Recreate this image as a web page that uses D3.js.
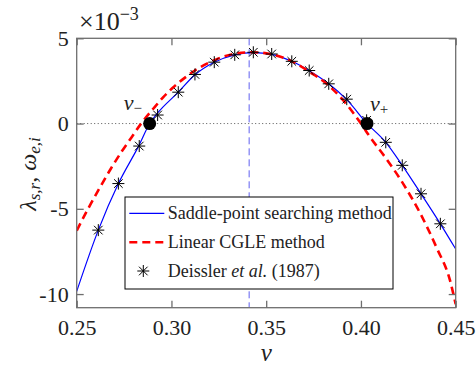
<!DOCTYPE html>
<html>
<head>
<meta charset="utf-8">
<script src="https://cdn.jsdelivr.net/npm/d3@7"></script>
<style>
  body { margin: 0; background: #fff; }
  svg text { font-family: "Liberation Serif", "DejaVu Serif", serif; fill: #222; }
</style>
</head>
<body>
<script>
let w = 476;
let h = 367;
let pLeft = 76.7, pRight = 455.7, pTop = 38.3, pBottom = 307.7;
let fontFam = '"Liberation Serif", "DejaVu Serif", serif';

// tick values
let xTicks = [0.25, 0.30, 0.35, 0.40, 0.45];
let yTicks = [5, 0, -5, -10];

// saddle-point searching method (blue), values in 1e-3
let saddleV   = [0.250, 0.2614, 0.272, 0.283, 0.2885, 0.2927, 0.3036, 0.3124, 0.3226, 0.3334, 0.3432, 0.3529, 0.3635, 0.3727, 0.383, 0.3925, 0.4032, 0.4131, 0.4218, 0.4317, 0.4419, 0.450];
let saddleVal = [-9.84, -6.25, -3.52, -1.25, 0, 0.62, 1.84, 2.86, 3.60, 4.03, 4.16, 4.06, 3.65, 3.10, 2.33, 1.40, 0, -1.10, -2.45, -4.12, -5.88, -7.36];

// linear CGLE method (red dashed)
let cgleV   = [0.250, 0.256, 0.262, 0.268, 0.274, 0.279, 0.284, 0.2904, 0.2957, 0.301, 0.3063, 0.3124, 0.3221, 0.3327, 0.343, 0.352, 0.3635, 0.3731, 0.3819, 0.3907, 0.400, 0.4048, 0.4136, 0.4224, 0.4312, 0.440, 0.447, 0.450];
let cgleVal = [-6.28, -5.0, -3.8, -2.65, -1.6, -0.8, 0, 0.87, 1.55, 2.13, 2.62, 3.11, 3.69, 4.08, 4.18, 4.08, 3.65, 3.01, 2.33, 1.36, 0, -0.79, -2.1, -3.55, -5.25, -7.3, -9.2, -10.6];

// Deissler et al. (1987)
let deisslerV   = [0.2614, 0.272, 0.283, 0.2927, 0.3036, 0.3124, 0.3226, 0.3334, 0.3432, 0.3529, 0.3635, 0.3727, 0.383, 0.3925, 0.403, 0.4131, 0.4218, 0.4317, 0.4419];
let deisslerVal = [-6.25, -3.52, -1.32, 0.50, 1.84, 2.88, 3.60, 4.03, 4.18, 4.08, 3.65, 3.11, 2.33, 1.43, 0.19, -1.10, -2.45, -4.12, -5.88];

// zero crossings and peak line
let crossV = [0.2885, 0.4032];
let crossSign = ['\u2212', '+'];
let peakV = 0.341;

let legendLabels = ['Saddle-point searching method', 'Linear CGLE method', 'Deissler'];

let xScale = d3.scaleLinear().domain([0.25, 0.45]).range([pLeft, pRight]);
let yScale = d3.scaleLinear().domain([-10.8, 5]).range([pBottom, pTop]);

let svg = d3.select('body').append('svg')
  .attr('width', w)
  .attr('height', h);

svg.append('defs').append('clipPath').attr('id', 'clip')
  .append('rect')
  .attr('x', pLeft).attr('y', pTop)
  .attr('width', pRight - pLeft).attr('height', pBottom - pTop);

let plot = svg.append('g').attr('clip-path', 'url(#clip)');

// reference lines
plot.append('line')
  .attr('x1', pLeft).attr('x2', pRight)
  .attr('y1', yScale(0)).attr('y2', yScale(0))
  .attr('stroke', '#555').attr('stroke-width', 1)
  .attr('stroke-dasharray', '1,2.5');

plot.append('line')
  .attr('x1', xScale(peakV)).attr('x2', xScale(peakV))
  .attr('y1', pTop).attr('y2', pBottom)
  .attr('stroke', '#6060f0').attr('stroke-width', 1)
  .attr('stroke-dasharray', '7,4');

let line = d3.line()
  .x((d) => { return xScale(d[0]); })
  .y((d) => { return yScale(d[1]); })
  .curve(d3.curveMonotoneX);

plot.append('path')
  .datum(saddleV.map((v, i) => [v, saddleVal[i]]))
  .attr('d', line)
  .attr('fill', 'none')
  .attr('stroke', '#0000ff')
  .attr('stroke-width', 1.2);

plot.append('path')
  .datum(cgleV.map((v, i) => [v, cgleVal[i]]))
  .attr('d', line)
  .attr('fill', 'none')
  .attr('stroke', '#ff0000')
  .attr('stroke-width', 2.6)
  .attr('stroke-dasharray', '8,5');

let star = 'M-6,0H6M0,-6V6M-4.3,-4.3L4.3,4.3M-4.3,4.3L4.3,-4.3';

svg.selectAll('.star')
  .data(deisslerV)
  .enter()
  .append('path')
  .attr('class', 'star')
  .attr('d', star)
  .attr('transform', (d, i) => { return 'translate(' + xScale(d) + ',' + yScale(deisslerVal[i]) + ')'; })
  .attr('stroke', '#000')
  .attr('stroke-width', 1);

svg.selectAll('.cross')
  .data(crossV)
  .enter()
  .append('circle')
  .attr('class', 'cross')
  .attr('cx', (d) => { return xScale(d); })
  .attr('cy', yScale(0))
  .attr('r', 6.5)
  .attr('fill', '#000');

// v- and v+ labels
let crossText = svg.selectAll('.crossText')
  .data(crossV)
  .enter()
  .append('text')
  .attr('class', 'crossText')
  .attr('x', (d, i) => { return i === 0 ? xScale(d) - 26 : xScale(d) + 3; })
  .attr('y', (d, i) => { return i === 0 ? 110 : 111; })
  .style('font-size', '22px');
crossText.append('tspan').style('font-style', 'italic').text('v');
crossText.append('tspan')
  .attr('dy', 3)
  .style('font-size', '15px')
  .text((d, i) => { return crossSign[i]; });

// axes box
svg.append('rect')
  .attr('x', pLeft).attr('y', pTop)
  .attr('width', pRight - pLeft).attr('height', pBottom - pTop)
  .attr('fill', 'none')
  .attr('stroke', '#6e6e6e')
  .attr('stroke-width', 1.3);

let fmtY = (d) => { return d < 0 ? '-' + Math.abs(d) : String(d); };

let xAxis = d3.axisBottom(xScale).tickValues(xTicks).tickSizeInner(-7).tickSizeOuter(0)
  .tickPadding(12).tickFormat(d3.format('.2f'));
let yAxis = d3.axisLeft(yScale).tickValues(yTicks).tickSizeInner(-7).tickSizeOuter(0)
  .tickPadding(8).tickFormat(fmtY);

let gx = svg.append('g').attr('transform', 'translate(0,' + pBottom + ')').call(xAxis);
let gy = svg.append('g').attr('transform', 'translate(' + pLeft + ',0)').call(yAxis);
let gt = svg.append('g').attr('transform', 'translate(0,' + pTop + ')')
  .call(d3.axisTop(xScale).tickValues(xTicks).tickSizeInner(-7).tickSizeOuter(0).tickFormat(''));
let gr = svg.append('g').attr('transform', 'translate(' + pRight + ',0)')
  .call(d3.axisRight(yScale).tickValues(yTicks).tickSizeInner(-7).tickSizeOuter(0).tickFormat(''));

[gx, gy, gt, gr].forEach((g) => {
  g.select('.domain').remove();
  g.attr('font-family', fontFam).attr('font-size', 22);
  g.selectAll('line').attr('stroke', '#6e6e6e').attr('stroke-width', 1.3);
  g.selectAll('text').attr('fill', '#222')
    .style('font-family', fontFam)
    .style('font-size', '22px');
});

// exponent
let expo = svg.append('text').attr('x', 79).attr('y', 30).style('font-size', '26px');
expo.append('tspan').text('\u00d710');
expo.append('tspan').attr('dy', -10).style('font-size', '18px').text('\u22123');

// axis labels
svg.append('text')
  .attr('x', (pLeft + pRight) / 2)
  .attr('y', 361)
  .attr('text-anchor', 'middle')
  .style('font-size', '25px')
  .style('font-style', 'italic')
  .text('v');

let yl = svg.append('text')
  .attr('transform', 'translate(36,174) rotate(-90)')
  .attr('text-anchor', 'middle')
  .style('font-size', '24px')
  .style('font-style', 'italic');
yl.append('tspan').text('\u03bb');
yl.append('tspan').attr('dy', 4).style('font-size', '17px').text('s,r');
yl.append('tspan').attr('dy', -4).style('font-style', 'normal').text(', ');
yl.append('tspan').text('\u03c9');
yl.append('tspan').attr('dy', 4).style('font-size', '17px').text('e,i');

// legend
let lg = svg.append('g');
lg.append('rect')
  .attr('x', 125).attr('y', 197)
  .attr('width', 268).attr('height', 92)
  .attr('fill', '#fff')
  .attr('stroke', '#000')
  .attr('stroke-width', 1);

let rowY = [213.3, 242.3, 271];

lg.append('line')
  .attr('x1', 129.3).attr('x2', 164.3)
  .attr('y1', rowY[0]).attr('y2', rowY[0])
  .attr('stroke', '#0000ff').attr('stroke-width', 1.2);
lg.append('line')
  .attr('x1', 129.3).attr('x2', 164.3)
  .attr('y1', rowY[1]).attr('y2', rowY[1])
  .attr('stroke', '#ff0000').attr('stroke-width', 2.6)
  .attr('stroke-dasharray', '8,5');
lg.append('path')
  .attr('d', star)
  .attr('transform', 'translate(143.3,' + rowY[2] + ')')
  .attr('stroke', '#000').attr('stroke-width', 1);

lg.selectAll('.lt')
  .data(legendLabels)
  .enter()
  .append('text')
  .attr('class', 'lt')
  .attr('x', 167.7)
  .attr('y', (d, i) => { return rowY[i] + 6; })
  .style('font-size', '18px')
  .text((d) => { return d; });

lg.selectAll('.lt').filter((d, i) => i === 2)
  .each(function () {
    let t = d3.select(this);
    t.append('tspan').text(' ');
    t.append('tspan').style('font-style', 'italic').text('et al.');
    t.append('tspan').text(' (1987)');
  });
</script>
</body>
</html>
